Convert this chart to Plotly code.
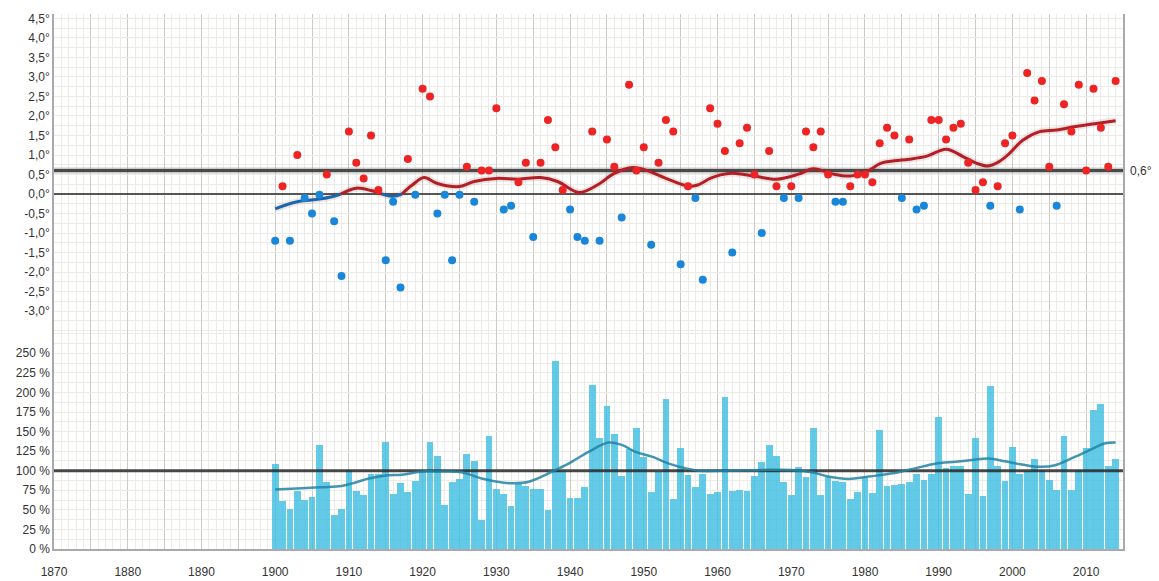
import plotly.graph_objects as go
from plotly.subplots import make_subplots

# ---------------- data ----------------
years = list(range(1900, 2015))

temp_anomaly = [
    -1.2, 0.2, -1.2, 1.0, -0.1, -0.5, -0.02, 0.5, -0.7, -2.1,   # 1900-1909
    1.6, 0.8, 0.4, 1.5, 0.1, -1.7, -0.2, -2.4, 0.9, -0.02,      # 1910-1919
    2.7, 2.5, -0.5, -0.02, -1.7, -0.02, 0.7, -0.2, 0.6, 0.6,    # 1920-1929
    2.2, -0.4, -0.3, 0.3, 0.8, -1.1, 0.8, 1.9, 1.2, 0.1,        # 1930-1939
    -0.4, -1.1, -1.2, 1.6, -1.2, 1.4, 0.7, -0.6, 2.8, 0.6,      # 1940-1949
    1.2, -1.3, 0.8, 1.9, 1.6, -1.8, 0.2, -0.1, -2.2, 2.2,       # 1950-1959
    1.8, 1.1, -1.5, 1.3, 1.7, 0.5, -1.0, 1.1, 0.2, -0.1,        # 1960-1969
    0.2, -0.1, 1.6, 1.2, 1.6, 0.5, -0.2, -0.2, 0.2, 0.5,        # 1970-1979
    0.5, 0.3, 1.3, 1.7, 1.5, -0.1, 1.4, -0.4, -0.3, 1.9,        # 1980-1989
    1.9, 1.4, 1.7, 1.8, 0.8, 0.1, 0.3, -0.3, 0.2, 1.3,          # 1990-1999
    1.5, -0.4, 3.1, 2.4, 2.9, 0.7, -0.3, 2.3, 1.6, 2.8,         # 2000-2009
    0.6, 2.7, 1.7, 0.7, 2.9,                                    # 2010-2014
]

precip_pct = [
    109, 62, 52, 75, 63, 67, 134, 86, 44, 52,       # 1900-1909
    102, 75, 70, 97, 97, 137, 71, 85, 74, 88,       # 1910-1919
    100, 137, 120, 57, 86, 90, 122, 113, 38, 145,   # 1920-1929
    77, 71, 55, 84, 81, 77, 77, 51, 241, 100,       # 1930-1939
    66, 66, 80, 210, 142, 183, 148, 94, 128, 155,   # 1940-1949
    118, 74, 99, 192, 64, 130, 95, 80, 97, 71,      # 1950-1959
    73, 195, 75, 76, 75, 94, 112, 133, 120, 86,     # 1960-1969
    70, 105, 92, 155, 69, 93, 88, 86, 65, 74,       # 1970-1979
    92, 72, 153, 81, 82, 84, 86, 97, 89, 97,        # 1980-1989
    169, 104, 107, 106, 71, 142, 68, 209, 107, 88,  # 1990-1999
    131, 96, 100, 116, 101, 89, 76, 145, 76, 101,   # 2000-2009
    130, 178, 186, 107, 115,                        # 2010-2014
]

# smoothed temperature curve, split by sign
trend_neg1_years = [1900, 1903, 1906, 1907.7, 1908.9]
trend_neg1_vals = [-0.38, -0.2, -0.13, -0.07, 0.0]
trend_pos1_years = [1908.9, 1911, 1913, 1914.5]
trend_pos1_vals = [0.0, 0.15, 0.09, 0.0]
trend_neg2_years = [1914.5, 1916, 1917.2]
trend_neg2_vals = [0.0, -0.06, 0.0]
trend_pos2_years = [1917.2, 1918.6, 1920.2, 1922, 1925, 1927, 1930, 1933, 1936,
                    1938.3, 1941.2, 1943.7, 1946, 1948.5, 1950, 1953, 1956,
                    1957.3, 1959, 1960.4, 1962, 1965, 1968, 1971, 1973, 1975.7,
                    1978, 1980, 1982.2, 1984, 1986, 1988.4, 1991, 1993.3,
                    1995.1, 1996.7, 1998.2, 1999.6, 2001.4, 2003.7, 2006,
                    2008.6, 2011.4, 2014]
trend_pos2_vals = [0.0, 0.23, 0.42, 0.27, 0.19, 0.32, 0.4, 0.38, 0.42,
                   0.32, 0.04, 0.23, 0.53, 0.68, 0.63, 0.4, 0.2,
                   0.23, 0.4, 0.49, 0.53, 0.46, 0.38, 0.51, 0.65, 0.51,
                   0.46, 0.55, 0.79, 0.85, 0.89, 0.97, 1.15, 0.96,
                   0.79, 0.72, 0.83, 1.04, 1.38, 1.6, 1.64,
                   1.73, 1.81, 1.88]

# smoothed precipitation curve
precip_trend_years = [1900, 1903.6, 1906.3, 1909, 1910.9, 1912.7, 1915, 1917.2,
                      1920, 1922.6, 1925.3, 1928, 1930.8, 1932.4, 1934.4,
                      1937.6, 1939.8, 1942.5, 1945.2, 1947, 1948.9, 1951.1,
                      1953.4, 1955.7, 1957.5, 1961.5, 1966, 1970, 1972.8,
                      1975, 1977.8, 1980.5, 1984, 1986.8, 1989.5, 1992.3,
                      1994.5, 1996.8, 1999, 2001.3, 2003.6, 2005.8, 2008,
                      2010.4, 2012.6, 2014]
precip_trend_vals = [76, 77.6, 79, 80.5, 85, 90, 94, 95,
                     99, 99, 98, 90, 85, 84, 86,
                     99, 109, 124, 136, 133, 124, 118,
                     109, 103, 100, 100, 101, 101, 98,
                     92.5, 89.5, 92.5, 97, 103, 109, 111.5,
                     113.6, 115.7, 112, 108, 105, 107, 115.7,
                     126, 135, 136]

temp_ref = 0.6
precip_ref = 100
x_range = [1870, 2015]

x_tick_vals = list(range(1870, 2016, 5))
x_tick_text = [str(v) if v % 10 == 0 else "" for v in x_tick_vals]
temp_tick_vals = [v / 2 for v in range(-6, 10)]
temp_tick_text = [f"{v:.1f}".replace(".", ",") + "°" for v in temp_tick_vals]
precip_tick_vals = list(range(0, 275, 25))
precip_tick_text = [f"{v} %" for v in precip_tick_vals]

# ---------------- style ----------------
RED_PT = "#ee2424"
BLUE_PT = "#1a86d9"
RED_LINE = "#b41f26"
BLUE_LINE = "#1b67ad"
BAR = "rgba(60,190,225,0.80)"
MAJOR_GRID = "#cbcbc4"
MINOR_GRID = "#ecebe6"
FONT = "Liberation Sans, Arial, sans-serif"

split = 0.4065

fig = make_subplots(rows=2, cols=1, shared_xaxes=True, vertical_spacing=0,
                    row_heights=[1 - split, split])

# reference lines (drawn first so the marks sit on top)
fig.add_trace(go.Scatter(x=x_range, y=[0, 0], mode="lines",
                         line=dict(color="#222", width=1.5),
                         hoverinfo="skip", showlegend=False), row=1, col=1)
fig.add_trace(go.Scatter(x=x_range, y=[temp_ref, temp_ref], mode="lines",
                         line=dict(color="rgba(150,150,150,0.5)", width=6),
                         hoverinfo="skip", showlegend=False), row=1, col=1)
fig.add_trace(go.Scatter(x=x_range, y=[temp_ref, temp_ref], mode="lines",
                         line=dict(color="rgba(60,60,60,0.9)", width=3),
                         hoverinfo="skip", showlegend=False), row=1, col=1)


def trend(xs, ys, color):
    fig.add_trace(go.Scatter(x=xs, y=ys, mode="lines", line_shape="spline",
                             line=dict(color="rgba(120,20,20,0.10)", width=7),
                             hoverinfo="skip", showlegend=False), row=1, col=1)
    fig.add_trace(go.Scatter(x=xs, y=ys, mode="lines", line_shape="spline",
                             line=dict(color=color, width=3),
                             showlegend=False), row=1, col=1)


trend(trend_neg1_years, trend_neg1_vals, BLUE_LINE)
trend(trend_pos1_years, trend_pos1_vals, RED_LINE)
trend(trend_neg2_years, trend_neg2_vals, BLUE_LINE)
trend(trend_pos2_years, trend_pos2_vals, RED_LINE)

pt_colors = [RED_PT if v >= 0 else BLUE_PT for v in temp_anomaly]
fig.add_trace(go.Scatter(x=years, y=temp_anomaly, mode="markers",
                         marker=dict(color=pt_colors, size=8),
                         showlegend=False), row=1, col=1)

fig.add_trace(go.Bar(x=years, y=precip_pct,
                     marker=dict(color=BAR, line=dict(width=0)),
                     width=0.92, showlegend=False), row=2, col=1)
fig.add_trace(go.Scatter(x=x_range, y=[precip_ref, precip_ref], mode="lines",
                         line=dict(color="rgba(40,40,40,0.85)", width=3),
                         hoverinfo="skip", showlegend=False), row=2, col=1)
fig.add_trace(go.Scatter(x=precip_trend_years, y=precip_trend_vals, mode="lines",
                         line_shape="spline",
                         line=dict(color="rgba(35,130,165,0.85)", width=2.5),
                         showlegend=False), row=2, col=1)

fig.add_annotation(xref="paper", yref="y", x=1.005, y=temp_ref, xanchor="left",
                   yanchor="middle", text="0,6°", showarrow=False,
                   font=dict(family=FONT, size=12, color="#333"))

fig.update_xaxes(range=x_range, tickmode="array", tickvals=x_tick_vals,
                 ticktext=x_tick_text, showgrid=True, gridcolor=MAJOR_GRID,
                 gridwidth=1, zeroline=False, automargin=False,
                 minor=dict(dtick=1, tick0=1870, showgrid=True,
                            gridcolor=MINOR_GRID, gridwidth=1),
                 tickfont=dict(family=FONT, size=12, color="#333"))
fig.update_xaxes(showticklabels=False, showline=False, row=1, col=1)
fig.update_xaxes(showline=True, linecolor="#aaaaaa", linewidth=1.5,
                 ticks="outside", ticklen=11, tickcolor="rgba(0,0,0,0)",
                 row=2, col=1)

fig.update_yaxes(range=[-3.526, 4.615], tickmode="array", tickvals=temp_tick_vals,
                 ticktext=temp_tick_text, showgrid=True, gridcolor=MINOR_GRID,
                 zeroline=False, showline=True, linecolor="#aaaaaa", linewidth=1.5,
                 mirror=True, automargin=False,
                 minor=dict(dtick=0.25, tick0=0, showgrid=True, gridcolor=MINOR_GRID),
                 tickfont=dict(family=FONT, size=12, color="#333"),
                 row=1, col=1)
fig.update_yaxes(range=[0, 277.8], tickmode="array", tickvals=precip_tick_vals,
                 ticktext=precip_tick_text, showgrid=True, gridcolor=MINOR_GRID,
                 zeroline=False, showline=True, linecolor="#aaaaaa", linewidth=1.5,
                 mirror=True, automargin=False,
                 minor=dict(dtick=12.5, tick0=0, showgrid=True, gridcolor=MINOR_GRID),
                 tickfont=dict(family=FONT, size=12, color="#333"),
                 row=2, col=1)

fig.update_layout(width=1159, height=581,
                  margin=dict(l=54, r=36, t=14, b=32, autoexpand=False),
                  plot_bgcolor="white", paper_bgcolor="white",
                  bargap=0, showlegend=False, hovermode=False)

# remove the default page margin so the 1159x581 figure fills the window exactly
fig.write_html("out.html",
               config={"displayModeBar": False, "responsive": False},
               post_script="document.body.style.margin='0';"
                           "document.body.style.overflow='hidden';")
